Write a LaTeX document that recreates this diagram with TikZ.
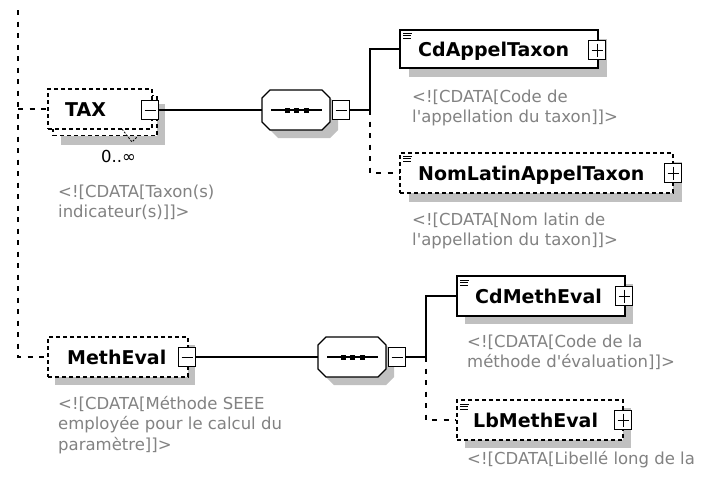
\documentclass[tikz,border=0pt]{standalone}
\usepackage{fontspec}
\setmainfont{DejaVu Sans}[Ligatures=TeXOff]
\usetikzlibrary{calc}
\definecolor{cdgray}{RGB}{130,130,130}
\definecolor{shadowgray}{RGB}{192,192,192}
\newcommand\octo[4]{(#1+8,#2) -- (#3-8,#2) -- (#3,#2+8) -- (#3,#4-8) -- (#3-8,#4) -- (#1+8,#4) -- (#1,#4-8) -- (#1,#2+8) -- cycle}
\begin{document}
\begin{tikzpicture}[x=1pt,y=-1pt,
  conn/.style={line width=1.3pt},
  dconn/.style={line width=1.3pt, dash pattern=on 5pt off 6.5pt},
  boxsolid/.style={draw, line width=1.4pt, fill=white, inner sep=0pt},
  boxdashed/.style={draw, line width=1.2pt, dash pattern=on 4pt off 3pt, fill=white, inner sep=0pt},
  expbox/.style={draw, fill=white, line width=1.2pt, minimum width=17pt, minimum height=19pt, inner sep=0pt},
  minusbox/.style={expbox, path picture={\draw[line width=1pt] ([xshift=3pt]path picture bounding box.west) -- ([xshift=-3pt]path picture bounding box.east);}},
  plusbox/.style={expbox, path picture={\draw[line width=1pt] ([xshift=3pt]path picture bounding box.west) -- ([xshift=-3pt]path picture bounding box.east); \draw[line width=1pt] ([yshift=-3pt]path picture bounding box.north) -- ([yshift=3pt]path picture bounding box.south);}},
  nametext/.style={font=\fontsize{19}{23}\selectfont\bfseries, anchor=base west, inner sep=0pt},
  cdtext/.style={font=\fontsize{16.5}{20.5}\selectfont, text=cdgray, anchor=base west, inner sep=0pt, align=left},
  icon/.style={line width=0.9pt},
  seqline/.style={line width=1.2pt},
]
\useasboundingbox (0,0) rectangle (701,477);
\fill[white] (0,0) rectangle (701,477);

% ---------- TAX ----------
\fill[shadowgray] (61,104) rectangle (165,145);
\node[boxdashed, minimum width=104, minimum height=40] (taxback) at (105,115.5) {};
\node[boxdashed, minimum width=104, minimum height=40] (taxfront) at (100,109) {};
\draw[line width=0.8pt, dash pattern=on 2pt off 1.5pt] (122,129) -- (132,142) -- (137,137);
\node[minusbox] (taxminus) at (150,110) {};
\node[nametext] (taxname) at (65,116) {TAX};
\node[font=\fontsize{16.5}{18}\selectfont, anchor=base west, inner sep=0pt] (taxocc) at (101,162) {0..∞};
\node[cdtext] (taxdoc) at (58,217.5) {<![CDATA[Taxon(s)\\indicateur(s)]]>};

% ---------- MethEval ----------
\fill[shadowgray] (55,345) rectangle (195,385);
\node[boxdashed, minimum width=140, minimum height=40] (meth) at (118,357) {};
\node[minusbox] (methminus) at (187,357) {};
\node[nametext] (methname) at (67,364) {MethEval};
\node[cdtext] (methdoc) at (58,450) {<![CDATA[Méthode SEEE\\employée pour le calcul du\\paramètre]]>};

% ---------- left trunk ----------
\coordinate (vtop) at (18,10);
\coordinate (vtax) at (18,109);
\coordinate (vbot) at (18,357);
\draw[dconn] (vtop) -- (vbot) -- (meth.west);
\draw[dconn] (vtax) -- (taxfront.west);

% ---------- sequence 1 ----------
\fill[shadowgray] \octo{270}{98}{338}{138};
\filldraw[fill=white, line width=1.3pt] \octo{262}{90}{330}{130};
\node[minimum width=68, minimum height=40, inner sep=0pt] (seq1) at (296,110) {};
\draw[seqline] (271,110) -- (322,110);
\foreach \dx in {287,296,306} \fill (\dx-2.5,107.5) rectangle (\dx+2.5,112.5);
\node[minusbox] (seq1minus) at (341,110) {};
\draw[conn] (taxminus.east) -- (seq1.west);
\coordinate (j1) at (370,110);
\draw[conn] (seq1minus.east) -- (j1);

% CdAppelTaxon
\fill[shadowgray] (409,39) rectangle (607,77);
\node[boxsolid, minimum width=198, minimum height=38] (cdappel) at (499,49) {};
\draw[icon] (403,33) -- (412,33) (403,35.5) -- (411,35.5) (403,38) -- (411,38);
\node[plusbox] (cdappelplus) at (597,50) {};
\node[nametext] (cdappelname) at (418,56) {CdAppelTaxon};
\node[cdtext] (cdappeldoc) at (412,122.5) {<![CDATA[Code de\\l'appellation du taxon]]>};

% NomLatinAppelTaxon
\fill[shadowgray] (409,162) rectangle (682,202);
\node[boxdashed, minimum width=273, minimum height=40] (nomlatin) at (536.5,173) {};
\draw[icon] (403,156) -- (412,156) (403,158.5) -- (411,158.5) (403,161) -- (411,161);
\node[plusbox] (nomlatinplus) at (673,173) {};
\node[nametext] (nomlatinname) at (418,180) {NomLatinAppelTaxon};
\node[cdtext] (nomlatindoc) at (412,245.5) {<![CDATA[Nom latin de\\l'appellation du taxon]]>};

\draw[conn] (j1) |- (cdappel.west);
\draw[dconn] (j1) |- (nomlatin.west);

% ---------- sequence 2 ----------
\fill[shadowgray] \octo{326}{345}{394}{385};
\filldraw[fill=white, line width=1.3pt] \octo{318}{337}{386}{377};
\node[minimum width=68, minimum height=40, inner sep=0pt] (seq2) at (352,357) {};
\draw[seqline] (327,357) -- (378,357);
\foreach \dx in {343,352,362} \fill (\dx-2.5,354.5) rectangle (\dx+2.5,359.5);
\node[minusbox] (seq2minus) at (397,357) {};
\draw[conn] (methminus.east) -- (seq2.west);
\coordinate (j2) at (426,357);
\draw[conn] (seq2minus.east) -- (j2);

% CdMethEval
\fill[shadowgray] (465,284) rectangle (633,324);
\node[boxsolid, minimum width=168, minimum height=40] (cdmeth) at (541,296) {};
\draw[icon] (460,280) -- (469,280) (460,282.5) -- (468,282.5) (460,285) -- (468,285);
\node[plusbox] (cdmethplus) at (624,296) {};
\node[nametext] (cdmethname) at (475,303) {CdMethEval};
\node[cdtext] (cdmethdoc) at (467,367.5) {<![CDATA[Code de la\\méthode d'évaluation]]>};

% LbMethEval
\fill[shadowgray] (465,408) rectangle (631,448);
\node[boxdashed, minimum width=166, minimum height=40] (lbmeth) at (540,420) {};
\draw[icon] (460,404) -- (469,404) (460,406.5) -- (468,406.5) (460,409) -- (468,409);
\node[plusbox] (lbmethplus) at (623,420) {};
\node[nametext] (lbmethname) at (473,427) {LbMethEval};
\node[cdtext] (lbmethdoc) at (467,464) {<![CDATA[Libellé long de la};

\draw[conn] (j2) |- (cdmeth.west);
\draw[dconn] (j2) |- (lbmeth.west);
\end{tikzpicture}
\end{document}
